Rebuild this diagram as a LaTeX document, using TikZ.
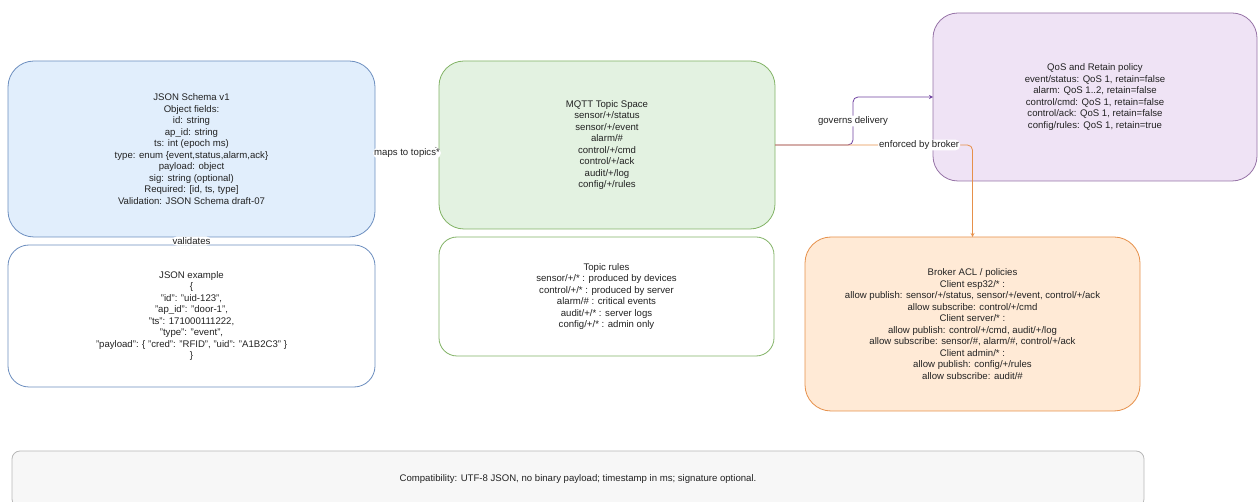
\documentclass[tikz,border=0pt]{standalone}
\usepackage{fontspec}
\setmainfont{Liberation Sans}
\definecolor{bluefill}{HTML}{E1EEFC}
\definecolor{blueline}{HTML}{6C8EBF}
\definecolor{greenfill}{HTML}{E3F2E1}
\definecolor{greenline}{HTML}{82B366}
\definecolor{purplefill}{HTML}{EFE3F5}
\definecolor{purpleline}{HTML}{9673A6}
\definecolor{purpleedge}{HTML}{6F42A0}
\definecolor{orangefill}{HTML}{FFEAD6}
\definecolor{orangeline}{HTML}{E6904A}
\definecolor{greyfill}{HTML}{F7F7F7}
\definecolor{greyline}{HTML}{B8B8B8}
\definecolor{inkgrey}{HTML}{222222}

\begin{document}
\begin{tikzpicture}[x=1pt, y=-1pt, font=\fontsize{9.6}{11.5}\selectfont, text=inkgrey, >=stealth,
  box/.style={draw, align=center, inner sep=2pt, outer sep=0pt, line width=0.8pt},
  lbl/.style={fill=white, inner sep=1pt, text=inkgrey},
  qedge/.style={->, line width=0.8pt, rounded corners=5pt}]
\useasboundingbox (0,0) rectangle (1259,502);
\clip (0,0) rectangle (1259,502);
\node[box, fill=bluefill, draw=blueline, rounded corners=26pt, minimum width=367, minimum height=176] (schema) at (191.5,149)
  {JSON Schema v1\\Object fields:\\id: string\\ap\_id: string\\ts: int (epoch ms)\\type: enum \{event,status,alarm,ack\}\\payload: object\\sig: string (optional)\\Required: [id, ts, type]\\Validation: JSON Schema draft-07};
\node[box, fill=white, draw=blueline, rounded corners=21pt, minimum width=367, minimum height=142] (example) at (191.5,316)
  {JSON example\\\{\\"id": "uid-123",\\"ap\_id": "door-1",\\"ts": 171000111222,\\"type": "event",\\"payload": \{ "cred": "RFID", "uid": "A1B2C3" \}\\\}};
\node[box, fill=greenfill, draw=greenline, rounded corners=25pt, minimum width=336, minimum height=168] (topics) at (607,145)
  {MQTT Topic Space\\sensor/+/status\\sensor/+/event\\alarm/\#\\control/+/cmd\\control/+/ack\\audit/+/log\\config/+/rules};
\node[box, fill=white, draw=greenline, rounded corners=18pt, minimum width=335, minimum height=119] (rules) at (606.5,296.5)
  {Topic rules\\sensor/+/* : produced by devices\\control/+/* : produced by server\\alarm/\# : critical events\\audit/+/* : server logs\\config/+/* : admin only};
\node[box, fill=purplefill, draw=purpleline, rounded corners=25pt, minimum width=324, minimum height=168] (qos) at (1095,97)
  {QoS and Retain policy\\event/status: QoS 1, retain=false\\alarm: QoS 1..2, retain=false\\control/cmd: QoS 1, retain=false\\control/ack: QoS 1, retain=false\\config/rules: QoS 1, retain=true};
\node[box, fill=orangefill, draw=orangeline, rounded corners=26pt, minimum width=335, minimum height=174] (broker) at (972.5,324)
  {Broker ACL / policies\\Client esp32/* :\\allow publish: sensor/+/status, sensor/+/event, control/+/ack\\allow subscribe: control/+/cmd\\Client server/* :\\allow publish: control/+/cmd, audit/+/log\\allow subscribe: sensor/\#, alarm/\#, control/+/ack\\Client admin/* :\\allow publish: config/+/rules\\allow subscribe: audit/\#};
\node[box, fill=greyfill, draw=greyline, rounded corners=8pt, minimum width=1132, minimum height=56] (compat) at (578,479)
  {Compatibility: UTF-8 JSON, no binary payload; timestamp in ms; signature optional.};
\coordinate (gbend) at (853,0);
\draw[qedge, darkgray] (schema.east) -- node[lbl, yshift=-4pt]{maps to topics*} (topics.west |- schema.east);
\draw[qedge, blueline] (schema) -- node[lbl]{validates} (example);
\draw[qedge, purpleedge] (topics.east) -- (topics.east -| gbend) -- node[lbl]{governs delivery} (qos.west -| gbend) -- (qos.west);
\draw[qedge, orangeline] (topics.east) -- node[lbl, pos=0.73]{enforced by broker} (topics.east -| broker.north) -- (broker.north);
\end{tikzpicture}
\end{document}
